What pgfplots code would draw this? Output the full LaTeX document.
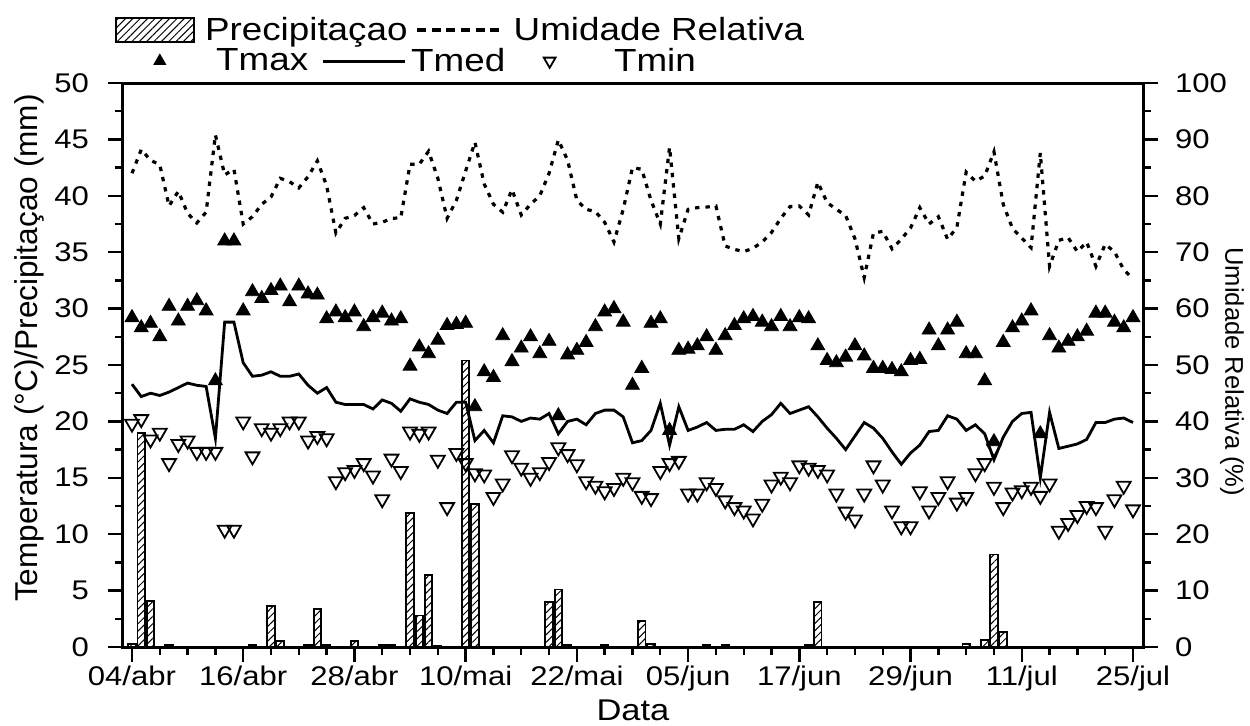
\documentclass[border=0pt]{standalone}
\usepackage{fontspec}
\setmainfont{Liberation Sans}[FakeStretch=1.15]
\newfontfamily\rotfont{Liberation Sans}
\usepackage{pgfplots}
\usepackage{pgfplotstable}
\pgfplotsset{compat=1.18}
\usetikzlibrary{patterns.meta}

% day index (0 = 04/abr), Tmax, Tmed, Tmin, umidade relativa
\pgfplotstableread{
d tmax tmed tmin hum
0 29.2 23.3 19.8 84.0
1 28.3 22.2 20.2 88.2
2 28.7 22.5 18.4 86.3
3 27.5 22.3 19.0 85.5
4 30.2 22.6 16.3 78.2
5 28.9 23.0 18.0 80.8
6 30.2 23.4 18.3 76.9
7 30.7 23.2 17.3 75.2
8 29.8 23.1 17.3 77.1
9 23.6 18.5 17.3 90.8
10 36.0 28.8 10.4 83.7
11 36.0 28.8 10.4 84.7
12 29.8 25.2 20.0 75.0
13 31.5 24.0 16.9 76.3
14 30.9 24.1 19.4 78.5
15 31.6 24.4 19.0 79.8
16 32.0 24.0 19.4 83.1
17 30.6 24.0 20.0 82.5
18 32.0 24.2 20.0 81.4
19 31.3 23.2 18.3 83.4
20 31.2 22.5 18.7 86.2
21 29.1 23.0 18.5 81.8
22 29.7 21.7 14.7 73.4
23 29.2 21.5 15.5 76.0
24 29.7 21.5 15.7 76.5
25 28.4 21.5 16.3 77.9
26 29.2 21.1 15.2 75.0
27 29.6 21.9 13.1 75.3
28 28.9 21.6 16.7 76.0
29 29.1 20.9 15.6 76.1
30 24.9 22.0 19.1 85.6
31 26.6 21.7 18.9 85.6
32 26.0 21.5 19.1 87.9
33 27.2 21.0 16.6 83.1
34 28.5 20.7 12.4 76.0
35 28.6 21.7 17.2 79.2
36 28.7 21.7 16.3 84.4
37 21.3 18.3 15.4 89.5
38 24.4 19.2 15.3 82.1
39 23.9 18.1 13.3 78.5
40 27.6 20.5 14.5 77.1
41 25.3 20.4 17.0 81.1
42 26.5 20.0 15.9 76.6
43 27.5 20.3 15.0 78.5
44 26.0 20.2 15.5 80.0
45 27.1 20.7 16.4 84.0
46 20.5 18.9 17.7 89.9
47 25.9 20.0 17.1 86.3
48 26.3 20.2 16.2 79.2
49 27.0 19.7 14.7 77.6
50 28.4 20.7 14.3 77.2
51 29.7 21.0 13.8 75.3
52 30.0 21.0 14.1 71.8
53 28.8 20.4 15.0 77.6
54 23.2 18.1 14.6 85.0
55 24.7 18.3 13.4 84.7
56 28.7 19.2 13.2 79.2
57 29.1 21.6 15.6 75.0
58 19.2 17.9 16.3 88.6
59 26.3 21.3 16.5 72.4
60 26.4 19.2 13.6 77.6
61 26.7 19.5 13.6 77.9
62 27.5 19.9 14.6 78.0
63 26.3 19.2 14.1 78.2
64 27.6 19.3 13.0 71.1
65 28.5 19.3 12.4 70.5
66 29.1 19.7 12.1 70.1
67 29.3 19.1 11.4 70.7
68 28.8 20.0 12.7 71.8
69 28.4 20.6 14.4 73.5
70 29.3 21.6 15.1 76.0
71 28.4 20.7 14.6 78.1
72 29.2 21.0 16.1 78.2
73 29.1 21.3 15.9 76.6
74 26.7 20.4 15.7 82.4
75 25.4 19.4 15.3 78.8
76 25.2 18.5 13.6 77.6
77 25.7 17.5 12.0 76.5
78 26.7 18.7 11.3 72.4
79 25.8 19.9 13.6 65.5
80 24.7 19.4 16.1 73.4
81 24.7 18.5 14.4 73.7
82 24.6 17.3 12.1 70.6
83 24.4 16.2 10.7 72.3
84 25.4 17.2 10.7 74.3
85 25.5 17.9 13.8 77.9
86 28.1 19.1 12.1 75.0
87 26.7 19.2 13.3 76.3
88 28.1 20.5 14.7 72.3
89 28.8 20.2 12.8 74.4
90 26.0 19.2 13.3 84.2
91 26.0 19.7 15.4 82.6
92 23.6 18.9 16.3 83.5
93 18.2 16.6 17.6 87.8
94 27.0 18.6 12.4 78.5
95 28.3 20.0 13.7 74.2
96 28.9 20.7 13.9 72.5
97 29.8 20.8 14.2 70.8
98 18.9 15.0 13.4 87.6
99 27.6 20.8 14.5 67.5
100 26.5 17.6 10.3 72.1
101 27.1 17.8 11.0 72.6
102 27.5 18.0 11.7 70.1
103 28.0 18.4 12.5 71.8
104 29.6 19.9 12.4 67.5
105 29.6 19.9 10.3 71.4
106 28.8 20.2 13.1 70.1
107 28.3 20.3 14.3 66.9
108 29.2 19.9 12.2 65.3
}\clima

% precipitation, only days with rain
\pgfplotstableread{
d p
0 0.3
1 19.0
2 4.1
4 0.2
13 0.2
15 3.6
16 0.5
19 0.2
20 3.4
21 0.2
24 0.5
27 0.2
28 0.2
30 11.9
31 2.8
32 6.4
33 0.1
36 25.4
37 12.7
45 4.0
46 5.1
47 0.2
51 0.2
55 2.3
56 0.3
62 0.2
64 0.2
73 0.2
74 4.0
90 0.3
92 0.6
93 8.2
94 1.3
}\chuva

\pgfplotsset{
  base/.style={
    width=510pt, height=282pt, scale only axis,
    at={(0,0)}, anchor=south west,
    xmin=-0.97, xmax=109.08,
    tick align=outside,
    major tick length=7.5pt, minor tick length=4pt,
    every tick/.style={black, line width=1.2pt},
    axis line style={line width=1.5pt},
    tick label style={font=\fontsize{13.5}{16}\selectfont},
    /pgf/number format/assume math mode=true,
    legend columns=-1,
    legend style={draw=none, fill=none, inner sep=0pt, anchor=west,
      nodes={inner sep=0pt},
      font=\fontsize{16}{19}\selectfont,
      /tikz/every even column/.append style={column sep=0pt},
      /tikz/every odd column/.append style={column sep=0pt}},
  },
  hatch/.style={pattern={Lines[angle=45,distance=2.6pt,line width=0.5pt]}},
  triup/.style={only marks, mark=triangle*, mark size=4pt, black},
  tridown/.style={only marks, mark=triangle, mark size=4pt, black,
    mark options={rotate=180, line width=0.9pt, fill=white}},
  % legend images, with the gaps of the reference built in
  legbox/.style={legend image code/.code={%
    \path (0pt,0pt) (44pt,0pt);
    \draw[##1] (0pt,-6pt) rectangle (39pt,6pt);}},
  legdash/.style={legend image code/.code={%
    \path (0pt,0pt) (51.5pt,0pt);
    \draw[##1] (4pt,0pt) -- (47.5pt,0pt);}},
  legmax/.style={legend image code/.code={%
    \path (0pt,0pt) (38pt,0pt);
    \draw[##1, mark size=3.4pt] plot coordinates {(10pt,0pt)};}},
  legmed/.style={legend image code/.code={%
    \path (0pt,0pt) (50pt,0pt);
    \draw[##1] (6.5pt,0pt) -- (47.5pt,0pt);}},
  legmin/.style={legend image code/.code={%
    \path (0pt,0pt) (54pt,0pt);
    \draw[##1, mark size=3.4pt] plot coordinates {(22pt,0pt)};}},
}

\begin{document}
\begin{tikzpicture}
\useasboundingbox (-61.5pt,-39pt) rectangle (563.5pt,323.5pt);

\begin{axis}[base,
  ymin=0, ymax=50,
  xtick={0,12,...,108},
  xticklabels={04/abr,16/abr,28/abr,10/mai,22/mai,05/jun,17/jun,29/jun,11/jul,25/jul},
  minor x tick num=3,
  ytick={0,5,...,50}, minor y tick num=1,
  xtick pos=bottom, ytick pos=left,
  xticklabel style={yshift=1.5pt},
  yticklabel style={xshift=-6pt},
  xlabel={Data},
  every axis x label/.style={at={(axis description cs:0.5,-0.113)}, anchor=center,
    font=\fontsize{15}{17}\selectfont},
  ylabel={Temperatura (°C)/Precipitaçao (mm)},
  every axis y label/.style={at={(axis description cs:-0.0922,0.53)}, rotate=90, anchor=center,
    font=\rotfont\fontsize{15.8}{18}\selectfont},
  legend style={at={(axis description cs:-0.0078,1.094)}},
]
\addlegendimage{legbox, hatch, draw=black, line width=0.8pt}
\addlegendentry{Precipitaçao}
\addlegendimage{legdash, black, line width=1.6pt, dash pattern=on 4.5pt off 2.8pt}
\addlegendentry{Umidade Relativa}

\addplot[ybar, bar width=0.8, bar shift=0pt, draw=black, line width=0.9pt, hatch, forget plot]
  table[x=d, y=p] {\chuva};
\addplot[black, line width=1.4pt, mark=none, forget plot] table[x=d, y=tmed] {\clima};
\addplot[triup, forget plot] table[x=d, y=tmax] {\clima};
\addplot[tridown, forget plot] table[x=d, y=tmin] {\clima};
\addplot[tridown, forget plot] coordinates {(93,14.2)};
\end{axis}

\begin{axis}[base,
  ymin=0, ymax=100,
  axis x line=none, axis y line*=right,
  ytick={0,10,...,100}, minor y tick num=1,
  yticklabel style={xshift=5pt},
  ylabel={Umidade Relativa (\%)},
  every axis y label/.style={at={(axis description cs:1.0873,0.488)}, rotate=-90, anchor=center,
    font=\rotfont\fontsize{12.8}{16}\selectfont},
  legend style={at={(axis description cs:0.0157,1.039)}},
]
\addplot[black, line width=1.6pt, dash pattern=on 2.2pt off 3pt, forget plot]
  table[x=d, y=hum] {\clima};
\addlegendimage{legmax, triup}
\addlegendentry{Tmax}
\addlegendimage{legmed, black, line width=1.5pt}
\addlegendentry{Tmed}
\addlegendimage{legmin, tridown}
\addlegendentry{Tmin}
\end{axis}
\end{tikzpicture}
\end{document}
